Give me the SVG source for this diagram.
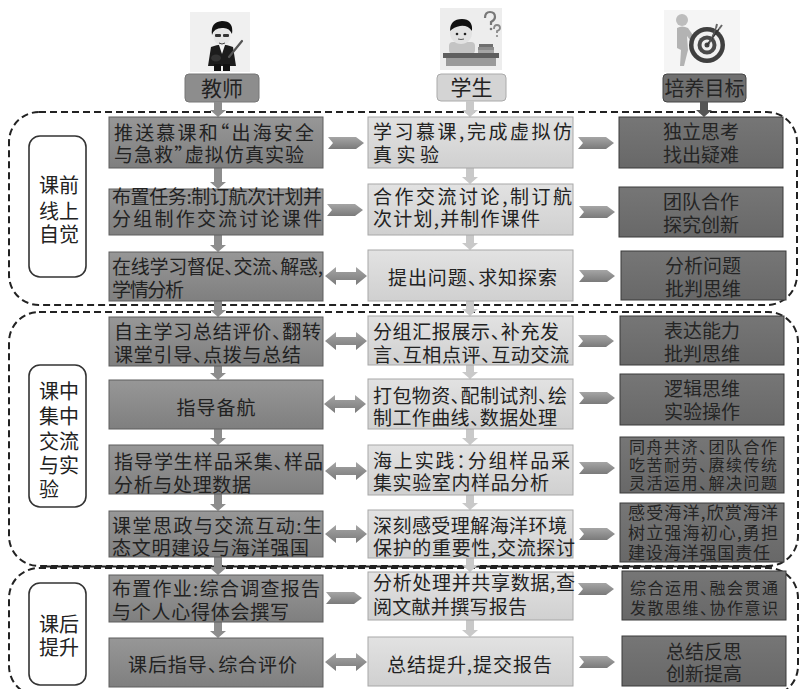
<svg xmlns="http://www.w3.org/2000/svg" width="799" height="689" viewBox="0 0 799 689">
  <defs>
    <linearGradient id="gLeft" x1="0" y1="0" x2="0" y2="1">
      <stop offset="0" stop-color="#979797"/>
      <stop offset="1" stop-color="#7f7f7f"/>
    </linearGradient>
    <linearGradient id="gMid" x1="0" y1="0" x2="0" y2="1">
      <stop offset="0" stop-color="#e2e2e2"/>
      <stop offset="1" stop-color="#d0d0d0"/>
    </linearGradient>
    <linearGradient id="gRight" x1="0" y1="0" x2="0" y2="1">
      <stop offset="0" stop-color="#767676"/>
      <stop offset="1" stop-color="#686868"/>
    </linearGradient>
    <linearGradient id="gArrow" x1="0" y1="0" x2="0" y2="1">
      <stop offset="0" stop-color="#a5a5a5"/>
      <stop offset="1" stop-color="#7a7a7a"/>
    </linearGradient>
    <!-- one-way chevron, 36 wide, 12 tall, origin at left middle -->
    <path id="chev" d="M0,-6 H28 L36,0 L28,6 H0 L5,0 Z"/>
    <!-- two-way arrow, 42 wide, origin at left middle -->
    <path id="dbl" d="M0,0 L11,-9 V-4 H31 V-9 L42,0 L31,9 V4 H11 V9 Z"/>
  </defs>
  <style>
    .region { fill: none; stroke: #222; stroke-width: 2; stroke-dasharray: 7 4; }
    .tag { fill: #ffffff; stroke: #333; stroke-width: 1.6; }
    .lbox { fill: url(#gLeft); stroke: #5e5e5e; stroke-width: 1; }
    .mbox { fill: url(#gMid); stroke: #a8a8a8; stroke-width: 1; }
    .rbox { fill: url(#gRight); stroke: #3a3a3a; stroke-width: 1; }
    text { font-family: "Noto Sans CJK SC", "Noto Sans", sans-serif; fill: #222222; font-feature-settings: "halt"; }
    .t { font-size: 19px; }
    .ts { font-size: 16px; }
    .tm { font-size: 17px; }
    .c { text-anchor: middle; }
    .rt { fill: #252525; }
    .lab { font-size: 20px; }
    .hd { font-size: 21px; text-anchor: middle; }
    .arr { fill: url(#gArrow); }
    .varL { fill: #8d8d8d; }
    .varM { fill: #c9c9c9; }
    .varR { fill: #555555; }
  </style>

  <rect width="799" height="689" fill="#ffffff"/>

  <!-- stage frames -->
  <g id="stage-frames">
    <rect class="region" x="9" y="112" width="788" height="193" rx="30"/>
    <rect class="region" x="9" y="312" width="789" height="254" rx="30"/>
    <rect class="region" x="9" y="568" width="789" height="128" rx="30"/>
    <line x1="42" y1="566.5" x2="772" y2="566.5" stroke="#222" stroke-width="2"/>
  </g>

  <!-- column header icons -->
  <g id="icon-teacher">
    <rect x="190" y="12" width="60" height="60" fill="#f0f0f0"/>
    <path d="M211,47 Q222,42 233,47 L236,66 L208,66 Z" fill="#1c1c1c"/>
    <path d="M219,45 L222,54 L225,45 Z" fill="#f4f4f4"/>
    <rect x="214" y="64" width="7" height="7" fill="#111"/>
    <rect x="223" y="64" width="7" height="7" fill="#111"/>
    <ellipse cx="222" cy="36" rx="8.5" ry="9.5" fill="#e6e6e6"/>
    <path d="M212,35 Q210,22 222,21 Q234,21 232,34 Q229,27 222,28 Q214,28 212,35 Z" fill="#111"/>
    <rect x="215" y="34" width="6" height="3" rx="1" fill="#333"/>
    <rect x="223" y="34" width="6" height="3" rx="1" fill="#333"/>
    <path d="M219,43 Q222,45 225,43" stroke="#444" stroke-width="1" fill="none"/>
    <line x1="229" y1="57" x2="242" y2="41" stroke="#555" stroke-width="2.2" stroke-linecap="round"/>
    <ellipse cx="216" cy="58" rx="5" ry="3.5" fill="#333"/>
  </g>
  <g id="icon-student">
    <rect x="440" y="8" width="62" height="62" fill="#ededed"/>
    <rect x="449" y="42" width="26" height="12" rx="4" fill="#c4c4c4"/>
    <circle cx="461" cy="33" r="11" fill="#e2e2e2"/>
    <path d="M450,31 Q450,19 462,19 Q473,19 472,31 Q468,25 460,26 Q454,27 450,31 Z" fill="#111"/>
    <circle cx="457" cy="34" r="1.3" fill="#222"/>
    <circle cx="465" cy="34" r="1.3" fill="#222"/>
    <path d="M458,39 Q461,40 464,39" stroke="#555" stroke-width="1" fill="none"/>
    <rect x="478" y="47" width="16" height="3" fill="#8c8c8c"/>
    <rect x="479" y="44" width="14" height="3" fill="#6f6f6f"/>
    <rect x="478" y="50" width="16" height="3" fill="#a6a6a6"/>
    <rect x="443" y="53" width="56" height="5" fill="#5f5f5f"/>
    <rect x="446" y="58" width="50" height="8" fill="#9a9a9a"/>
    <path d="M485,18 Q485,12 490,12 Q495,12 495,17 Q495,20 491,22 L491,25" stroke="#777" stroke-width="2.2" fill="none"/>
    <circle cx="491" cy="29" r="1.3" fill="#777"/>
    <path d="M494,29 Q494,25 497,25 Q500,25 500,28 Q500,30 497,31 L497,33" stroke="#888" stroke-width="1.8" fill="none"/>
    <circle cx="497" cy="36" r="1.1" fill="#888"/>
  </g>
  <g id="icon-goal">
    <rect x="664" y="10" width="76" height="62" fill="#f5f5f5"/>
    <circle cx="682" cy="20" r="6" fill="#bdbdbd"/>
    <path d="M677,28 Q682,25 688,28 L695,38 L690,40 L687,36 L688,50 L684,66 L680,66 L681,50 L677,48 Z" fill="#b3b3b3"/>
    <circle cx="707" cy="45" r="18" fill="#3f3f3f"/>
    <circle cx="707" cy="45" r="13.5" fill="#f0f0f0"/>
    <circle cx="707" cy="45" r="9.5" fill="#4a4a4a"/>
    <circle cx="707" cy="45" r="5.5" fill="#f0f0f0"/>
    <circle cx="707" cy="45" r="2.5" fill="#444"/>
    <line x1="707" y1="45" x2="719" y2="29" stroke="#333" stroke-width="1.6"/>
    <line x1="709" y1="44" x2="716" y2="28" stroke="#555" stroke-width="1.3"/>
    <path d="M719,29 l3,-4 M716,28 l1,-4" stroke="#666" stroke-width="2"/>
  </g>

  <!-- column headers -->
  <g id="head-teacher">
    <rect x="185" y="74" width="74" height="28" rx="4" fill="#8d8d8d" stroke="#777"/>
    <text class="hd" x="222" y="95.5">教师</text>
  </g>
  <g id="head-student">
    <rect x="437" y="74" width="69" height="27" rx="4" fill="#d4d4d4" stroke="#aaa"/>
    <text class="hd" x="471.5" y="95">学生</text>
  </g>
  <g id="head-goal">
    <rect x="663" y="74" width="83" height="28" rx="4" fill="#707070" stroke="#444"/>
    <text class="hd rt" x="704.5" y="95.5" style="font-size:20px">培养目标</text>
  </g>

  <!-- stage tags -->
  <g id="tag-before">
    <rect class="tag" x="29" y="136" width="57" height="141" rx="11"/>
    <text class="lab" x="39" y="193">课前</text>
    <text class="lab" x="39" y="219">线上</text>
    <text class="lab" x="39" y="242">自觉</text>
  </g>
  <g id="tag-during">
    <rect class="tag" x="29" y="365" width="57" height="142" rx="11"/>
    <text class="lab" x="39" y="399">课中</text>
    <text class="lab" x="39" y="424">集中</text>
    <text class="lab" x="39" y="449">交流</text>
    <text class="lab" x="39" y="473">与实</text>
    <text class="lab" x="39" y="497">验</text>
  </g>
  <g id="tag-after">
    <rect class="tag" x="29" y="583" width="57" height="102" rx="11"/>
    <text class="lab" x="39" y="632">课后</text>
    <text class="lab" x="39" y="655">提升</text>
  </g>

  <!-- connectors -->
  <g id="connectors">
    <!-- header drops -->
    <path class="varL" d="M214,102 h8 v8 h4 l-8,7 l-8,-7 h4 z"/>
    <path class="varM" d="M466,101 h8 v9 h4 l-8,7 l-8,-7 h4 z"/>
    <path class="varR" d="M700,102 h8 v8 h4 l-8,7 l-8,-7 h4 z"/>
    <!-- teacher column -->
    <path class="varL" d="M214,168 h8 v14 h4 l-8,7 l-8,-7 h4 z"/>
    <path class="varL" d="M214,235 h8 v10 h4 l-8,7 l-8,-7 h4 z"/>
    <path class="varL" d="M214,301 h8 v9 h4 l-8,7 l-8,-7 h4 z"/>
    <path class="varL" d="M214,366 h8 v7 h4 l-8,7 l-8,-7 h4 z"/>
    <path class="varL" d="M214,429 h8 v9 h4 l-8,7 l-8,-7 h4 z"/>
    <path class="varL" d="M214,494 h8 v10 h4 l-8,7 l-8,-7 h4 z"/>
    <path class="varL" d="M214,557 h8 v11 h4 l-8,7 l-8,-7 h4 z"/>
    <path class="varL" d="M214,622 h8 v9 h4 l-8,7 l-8,-7 h4 z"/>
    <!-- student column -->
    <path class="varM" d="M466,168 h8 v9 h4 l-8,7 l-8,-7 h4 z"/>
    <path class="varM" d="M466,235 h8 v8 h4 l-8,7 l-8,-7 h4 z"/>
    <path class="varM" d="M466,301 h8 v8 h4 l-8,7 l-8,-7 h4 z"/>
    <path class="varM" d="M466,365 h8 v7 h4 l-8,7 l-8,-7 h4 z"/>
    <path class="varM" d="M466,429 h8 v9 h4 l-8,7 l-8,-7 h4 z"/>
    <path class="varM" d="M466,495 h8 v8 h4 l-8,7 l-8,-7 h4 z"/>
    <path class="varM" d="M466,558 h8 v7 h4 l-8,7 l-8,-7 h4 z"/>
    <path class="varM" d="M466,620 h8 v10 h4 l-8,7 l-8,-7 h4 z"/>
    <!-- teacher to student -->
    <use href="#chev" class="arr" x="328" y="143"/>
    <use href="#chev" class="arr" x="327" y="210"/>
    <use href="#dbl" class="arr" x="325" y="276"/>
    <use href="#dbl" class="arr" x="325" y="341"/>
    <use href="#dbl" class="arr" x="324" y="404"/>
    <use href="#dbl" class="arr" x="325" y="471"/>
    <use href="#dbl" class="arr" x="325" y="534"/>
    <use href="#chev" class="arr" x="326" y="598"/>
    <use href="#dbl" class="arr" x="325" y="662"/>
    <!-- student to goals -->
    <use href="#chev" class="arr" x="578" y="143"/>
    <use href="#chev" class="arr" x="579" y="212"/>
    <use href="#chev" class="arr" x="579" y="276"/>
    <use href="#chev" class="arr" x="578" y="341"/>
    <use href="#chev" class="arr" x="579" y="398"/>
    <use href="#chev" class="arr" x="579" y="468"/>
    <use href="#chev" class="arr" x="579" y="534"/>
    <use href="#chev" class="arr" x="578" y="589"/>
    <use href="#chev" class="arr" x="579" y="662"/>
  </g>

  <!-- teacher column -->
  <g id="t1">
    <rect class="lbox" x="109" y="117" width="214" height="51"/>
    <text class="t" x="114" y="140" textLength="200" lengthAdjust="spacing">推送慕课和“出海安全</text>
    <text class="t" x="114" y="162" textLength="190" lengthAdjust="spacing">与急救”虚拟仿真实验</text>
  </g>
  <g id="t2">
    <rect class="lbox" x="109" y="189" width="214" height="46"/>
    <text class="t" x="112" y="204" textLength="210" lengthAdjust="spacing">布置任务:制订航次计划并</text>
    <text class="t" x="112" y="226" textLength="210" lengthAdjust="spacing">分组制作交流讨论课件</text>
  </g>
  <g id="t3">
    <rect class="lbox" x="109" y="252" width="214" height="49"/>
    <text class="t" x="112" y="274" textLength="211" lengthAdjust="spacing">在线学习督促、交流、解惑,</text>
    <text class="t" x="112" y="297" textLength="72" lengthAdjust="spacing">学情分析</text>
  </g>
  <g id="t4">
    <rect class="lbox" x="109" y="317" width="214" height="49"/>
    <text class="t" x="114" y="339" textLength="207" lengthAdjust="spacing">自主学习总结评价、翻转</text>
    <text class="t" x="114" y="362" textLength="187" lengthAdjust="spacing">课堂引导、点拨与总结</text>
  </g>
  <g id="t5">
    <rect class="lbox" x="109" y="380" width="214" height="49"/>
    <text class="t c" x="216" y="415" textLength="79" lengthAdjust="spacing">指导备航</text>
  </g>
  <g id="t6">
    <rect class="lbox" x="109" y="445" width="214" height="49"/>
    <text class="t" x="114" y="469" textLength="209" lengthAdjust="spacing">指导学生样品采集、样品</text>
    <text class="t" x="114" y="492" textLength="137" lengthAdjust="spacing">分析与处理数据</text>
  </g>
  <g id="t7">
    <rect class="lbox" x="109" y="511" width="214" height="46"/>
    <text class="t" x="112" y="533" textLength="210" lengthAdjust="spacing">课堂思政与交流互动:生</text>
    <text class="t" x="112" y="555" textLength="197" lengthAdjust="spacing">态文明建设与海洋强国</text>
  </g>
  <g id="t8">
    <rect class="lbox" x="109" y="575" width="214" height="47"/>
    <text class="t" x="112" y="596" textLength="208" lengthAdjust="spacing">布置作业:综合调查报告</text>
    <text class="t" x="112" y="619" textLength="177" lengthAdjust="spacing">与个人心得体会撰写</text>
  </g>
  <g id="t9">
    <rect class="lbox" x="109" y="638" width="214" height="49"/>
    <text class="t" x="128" y="672" textLength="169" lengthAdjust="spacing">课后指导、综合评价</text>
  </g>

  <!-- student column -->
  <g id="s1">
    <rect class="mbox" x="368" y="117" width="205" height="51"/>
    <text class="t" x="373" y="139" textLength="199" lengthAdjust="spacing">学习慕课,完成虚拟仿</text>
    <text class="t" x="373" y="162" textLength="66" lengthAdjust="spacing">真实验</text>
  </g>
  <g id="s2">
    <rect class="mbox" x="368" y="184" width="205" height="51"/>
    <text class="t" x="373" y="204" textLength="199" lengthAdjust="spacing">合作交流讨论,制订航</text>
    <text class="t" x="373" y="226" textLength="167" lengthAdjust="spacing">次计划,并制作课件</text>
  </g>
  <g id="s3">
    <rect class="mbox" x="368" y="250" width="205" height="51"/>
    <text class="t" x="388" y="285" textLength="169" lengthAdjust="spacing">提出问题、求知探索</text>
  </g>
  <g id="s4">
    <rect class="mbox" x="368" y="316" width="205" height="49"/>
    <text class="t" x="373" y="339" textLength="186" lengthAdjust="spacing">分组汇报展示、补充发</text>
    <text class="t" x="373" y="362" textLength="196" lengthAdjust="spacing">言、互相点评、互动交流</text>
  </g>
  <g id="s5">
    <rect class="mbox" x="368" y="379" width="205" height="50"/>
    <text class="t" x="373" y="403" textLength="194" lengthAdjust="spacing">打包物资、配制试剂、绘</text>
    <text class="t" x="373" y="425" textLength="184" lengthAdjust="spacing">制工作曲线、数据处理</text>
  </g>
  <g id="s6">
    <rect class="mbox" x="368" y="445" width="205" height="50"/>
    <text class="t" x="373" y="468" textLength="197" lengthAdjust="spacing">海上实践：分组样品采</text>
    <text class="t" x="373" y="490" textLength="176" lengthAdjust="spacing">集实验室内样品分析</text>
  </g>
  <g id="s7">
    <rect class="mbox" x="368" y="510" width="205" height="48"/>
    <text class="t" x="373" y="533" textLength="194" lengthAdjust="spacing">深刻感受理解海洋环境</text>
    <text class="t" x="373" y="555" textLength="202" lengthAdjust="spacing">保护的重要性,交流探讨</text>
  </g>
  <g id="s8">
    <rect class="mbox" x="368" y="572" width="205" height="48"/>
    <text class="t" x="373" y="590" textLength="202" lengthAdjust="spacing">分析处理并共享数据,查</text>
    <text class="t" x="373" y="614" textLength="154" lengthAdjust="spacing">阅文献并撰写报告</text>
  </g>
  <g id="s9">
    <rect class="mbox" x="368" y="637" width="205" height="49"/>
    <text class="t" x="387" y="672" textLength="165" lengthAdjust="spacing">总结提升,提交报告</text>
  </g>

  <!-- goals column -->
  <g id="g1">
    <rect class="rbox" x="619" y="117" width="164" height="51"/>
    <text class="t c rt" x="701" y="139">独立思考</text>
    <text class="t c rt" x="701" y="162">找出疑难</text>
  </g>
  <g id="g2">
    <rect class="rbox" x="619" y="187" width="164" height="50"/>
    <text class="t c rt" x="701" y="209">团队合作</text>
    <text class="t c rt" x="701" y="232">探究创新</text>
  </g>
  <g id="g3">
    <rect class="rbox" x="621" y="251" width="165" height="49"/>
    <text class="t c rt" x="703" y="273">分析问题</text>
    <text class="t c rt" x="703" y="296">批判思维</text>
  </g>
  <g id="g4">
    <rect class="rbox" x="620" y="316" width="164" height="49"/>
    <text class="t c rt" x="702" y="338">表达能力</text>
    <text class="t c rt" x="702" y="361">批判思维</text>
  </g>
  <g id="g5">
    <rect class="rbox" x="620" y="374" width="164" height="51"/>
    <text class="t c rt" x="702" y="396">逻辑思维</text>
    <text class="t c rt" x="702" y="419">实验操作</text>
  </g>
  <g id="g6">
    <rect class="rbox" x="620" y="437" width="164" height="56"/>
    <text class="ts c rt" x="703" y="453" textLength="148" lengthAdjust="spacing">同舟共济、团队合作</text>
    <text class="ts c rt" x="703" y="471" textLength="148" lengthAdjust="spacing">吃苦耐劳、赓续传统</text>
    <text class="ts c rt" x="703" y="489" textLength="148" lengthAdjust="spacing">灵活运用、解决问题</text>
  </g>
  <g id="g7">
    <rect class="rbox" x="620" y="503" width="164" height="59"/>
    <text class="tm c rt" x="703" y="519" textLength="150" lengthAdjust="spacing">感受海洋,欣赏海洋</text>
    <text class="tm c rt" x="703" y="539" textLength="150" lengthAdjust="spacing">树立强海初心,勇担</text>
    <text class="tm c rt" x="699" y="559" textLength="142" lengthAdjust="spacing">建设海洋强国责任</text>
  </g>
  <g id="g8">
    <rect class="rbox" x="622" y="571" width="164" height="49"/>
    <text class="ts c rt" x="704" y="594" textLength="148" lengthAdjust="spacing">综合运用、融会贯通</text>
    <text class="ts c rt" x="704" y="614" textLength="148" lengthAdjust="spacing">发散思维、协作意识</text>
  </g>
  <g id="g9">
    <rect class="rbox" x="622" y="636" width="164" height="50"/>
    <text class="t c rt" x="704" y="659">总结反思</text>
    <text class="t c rt" x="704" y="681">创新提高</text>
  </g>
</svg>
